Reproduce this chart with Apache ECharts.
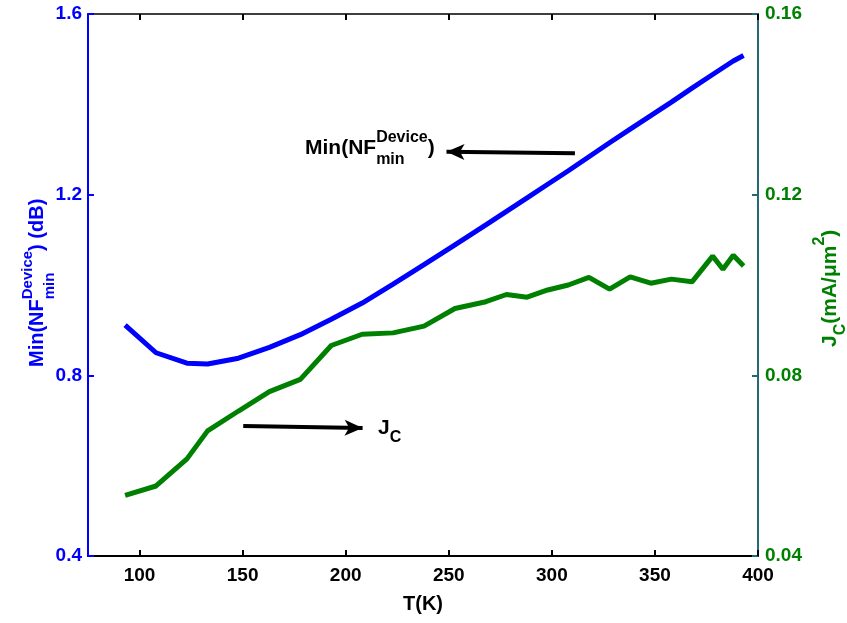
<!DOCTYPE html>
<html>
<head>
<meta charset="utf-8">
<script src="https://cdn.jsdelivr.net/npm/echarts@6/dist/echarts.min.js"></script>
<style>html,body{margin:0;padding:0;background:#fff}#c{width:847px;height:623px}</style>
</head>
<body>
<div id="c"></div>
<script>
// ---- data ----
const temps = [93,108,123,133,148,163,178,193,208,223,238,253,268,278,288,298,308,318,328,338,348,358,368,378,383,388,393];
const nfMin = [0.911,0.850,0.827,0.825,0.838,0.862,0.890,0.924,0.960,1.002,1.045,1.089,1.133,1.163,1.193,1.223,1.253,1.284,1.315,1.345,1.375,1.405,1.436,1.466,1.481,1.496,1.508];
const jc = [0.0534,0.0555,0.0615,0.0677,0.0721,0.0764,0.0791,0.0866,0.0891,0.0894,0.0909,0.0948,0.0963,0.0979,0.0973,0.0989,0.1000,0.1017,0.0991,0.1018,0.1004,0.1013,0.1007,0.1064,0.1035,0.1066,0.1042];
const xTicks = [100,150,200,250,300,350,400];
const leftTicks = [0.4,0.8,1.2,1.6];
const rightTicks = [0.04,0.08,0.12,0.16];
// annotation arrows in data units (left axis)
const arrowNF = [[311.2,1.2916],[248.9,1.2952]];
const arrowJC = [[150.3,0.688],[208.2,0.6835]];

const FONT = "'Liberation Sans', Arial, Helvetica, sans-serif";
const BLUE = '#0000ff', GREEN = '#008000', RAX = '#236a72';

const chart = echarts.init(document.getElementById('c'), null, {renderer:'canvas'});

const mctx = document.createElement('canvas').getContext('2d');
function buildLabel(parts, o) {
  const mainFont = 'bold ' + o.f + 'px ' + FONT;
  const smallFont = 'bold ' + o.fs + 'px ' + FONT;
  let x = 0; const children = [];
  parts.forEach(p => {
    if (p.t !== undefined) {
      mctx.font = mainFont;
      const w = mctx.measureText(p.t).width;
      children.push({type:'text', style:{text:p.t, x:x, y:0, font:mainFont, fill:o.color, verticalAlign:'middle', align:'left'}});
      x += w;
    } else {
      mctx.font = smallFont;
      let w = 0;
      if (p.sup) { w = Math.max(w, mctx.measureText(p.sup).width);
        children.push({type:'text', style:{text:p.sup, x:x, y:-o.supOff, font:smallFont, fill:o.color, verticalAlign:'middle', align:'left'}}); }
      if (p.sub) { w = Math.max(w, mctx.measureText(p.sub).width);
        children.push({type:'text', style:{text:p.sub, x:x, y:o.subOff, font:smallFont, fill:o.color, verticalAlign:'middle', align:'left'}}); }
      x += w;
    }
  });
  return {type:'group', x:o.x, y:o.y, rotation:o.rot || 0, children:children, silent:true};
}

const graphics = [
  buildLabel([{t:'Min(NF'},{sup:'Device', sub:'min'},{t:') (dB)'}], {f:20, fs:15, supOff:10, subOff:12, color:BLUE, x:37.5, y:367, rot:Math.PI/2}),
  buildLabel([{t:'J'},{sub:'C'},{t:'(mA/μm'},{sup:'2'},{t:')'}], {f:21, fs:16, supOff:10, subOff:11, color:GREEN, x:830, y:347, rot:Math.PI/2}),
  buildLabel([{t:'Min(NF'},{sup:'Device', sub:'min'},{t:')'}], {f:21, fs:16, supOff:10, subOff:12, color:'#000', x:305, y:148}),
  buildLabel([{t:'J'},{sub:'C'}], {f:21, fs:16, supOff:10, subOff:10, color:'#000', x:378, y:428})
];

const xCommon = {
  type:'value', min:75, max:400,
  splitLine:{show:false},
  axisLine:{show:true, onZero:false, lineStyle:{color:'#000', width:2}},
  axisTick:{show:true, inside:true, length:6, customValues:xTicks, lineStyle:{color:'#000', width:2}}
};

const option = {
  animation:false,
  backgroundColor:'#fff',
  grid:{left:88, right:89, top:14, bottom:67, containLabel:false, outerBoundsMode:'none'},
  xAxis:[
    Object.assign({}, xCommon, {
      position:'bottom',
      name:'T(K)', nameLocation:'middle', nameGap:38,
      nameTextStyle:{fontFamily:FONT, fontWeight:'bold', fontSize:20, color:'#000'},
      axisLabel:{show:true, customValues:xTicks, margin:10, fontFamily:FONT, fontWeight:'bold', fontSize:19, color:'#000'}
    }),
    Object.assign({}, xCommon, {
      position:'top',
      axisLine:{show:true, onZero:false, lineStyle:{color:'#000', width:1.5}},
      axisLabel:{show:false}
    })
  ],
  yAxis:[
    {
      type:'value', min:0.4, max:1.6, interval:0.4, position:'left',
      splitLine:{show:false},
      axisLine:{show:true, onZero:false, lineStyle:{color:BLUE, width:2}},
      axisTick:{show:true, inside:true, length:6, lineStyle:{color:BLUE, width:2}},
      axisLabel:{margin:6, fontFamily:FONT, fontWeight:'bold', fontSize:19, color:BLUE,
        formatter:v => v.toFixed(1)}
    },
    {
      type:'value', min:0.04, max:0.16, interval:0.04, position:'right',
      splitLine:{show:false},
      axisLine:{show:true, onZero:false, lineStyle:{color:RAX, width:2}},
      axisTick:{show:true, inside:true, length:6, lineStyle:{color:RAX, width:2}},
      axisLabel:{margin:7, fontFamily:FONT, fontWeight:'bold', fontSize:19, color:GREEN,
        formatter:v => v.toFixed(2)}
    }
  ],
  series:[
    {
      name:'NFmin', type:'line', xAxisIndex:0, yAxisIndex:0,
      data:temps.map((t,i)=>[t, nfMin[i]]),
      showSymbol:false, smooth:false,
      lineStyle:{color:BLUE, width:5}, itemStyle:{color:BLUE},
      markLine:{
        silent:true, animation:false,
        symbol:['none','arrow'], symbolSize:[12,18],
        label:{show:false},
        lineStyle:{type:'solid', color:'#000', width:4},
        data:[
          [{coord:arrowNF[0]},{coord:arrowNF[1]}],
          [{coord:arrowJC[0]},{coord:arrowJC[1]}]
        ]
      }
    },
    {
      name:'Jc', type:'line', xAxisIndex:0, yAxisIndex:1,
      data:temps.map((t,i)=>[t, jc[i]]),
      showSymbol:false, smooth:false,
      lineStyle:{color:GREEN, width:5}, itemStyle:{color:GREEN}
    }
  ],
  graphic:graphics
};
chart.setOption(option);
</script>
</body>
</html>
